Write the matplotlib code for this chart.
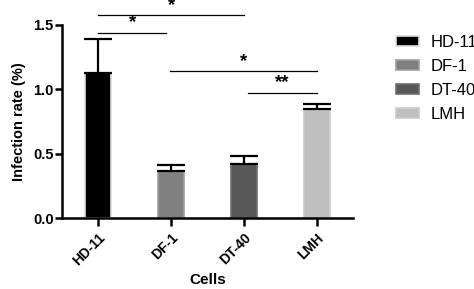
import matplotlib
matplotlib.use("Agg")
import matplotlib.pyplot as plt

cells = ["HD-11", "DF-1", "DT-40", "LMH"]
values = [1.13, 0.37, 0.42, 0.85]
errors = [0.26, 0.04, 0.06, 0.04]
colors = ["#000000", "#808080", "#585858", "#bfbfbf"]
edges = ["#dcdcdc", "#a0a0a0", "#707070", "#cccccc"]
yticks = [0.0, 0.5, 1.0, 1.5]
ytick_labels = ["0.0", "0.5", "1.0", "1.5"]
# significance brackets: (start index, end index, height, label)
sig_pairs = [(0, 2, 1.575, "*"), (0, 0.93, 1.44, "*"), (0.98, 3, 1.14, "*"), (2.06, 3, 0.975, "**")]

plt.rcParams['font.family'] = ['Liberation Sans', 'DejaVu Sans']

fig = plt.figure(figsize=(4.74, 2.89), dpi=100)
ax = fig.add_axes([0.1308, 0.2446, 0.6139, 0.6689])

x = list(range(len(cells)))
bars = ax.bar(x, values, width=0.36, color=colors, edgecolor=edges, linewidth=1.2,
              label=cells, zorder=2)
ax.errorbar(x, values, yerr=[[0]*len(errors), errors], fmt='none', ecolor='black',
            elinewidth=1.6, capsize=10, capthick=1.6, zorder=3)

ax.set_xlim(-0.5, 3.5)
ax.set_ylim(0, 1.5)
ax.set_yticks(yticks)
ax.set_yticklabels(ytick_labels, fontsize=10.5, fontweight='bold')
ax.set_xticks(x)
ax.set_xticklabels(cells, rotation=45, ha='right', rotation_mode='anchor',
                   fontsize=10, fontweight='bold')
for s in ['top', 'right']:
    ax.spines[s].set_visible(False)
for s in ['left', 'bottom']:
    ax.spines[s].set_linewidth(1.8)
ax.tick_params(axis='both', width=1.8, length=5, direction='out')
ax.tick_params(axis='x', length=6, pad=3)
ax.tick_params(axis='y', pad=1)

ax.set_ylabel("Infection rate (%)", fontsize=10.5, fontweight='bold', labelpad=5)
ax.set_xlabel("Cells", fontsize=11, fontweight='bold', labelpad=3)

for a, b, h, lab in sig_pairs:
    ax.plot([a, b], [h, h], color='black', linewidth=0.9, clip_on=False)
    ax.text((a + b) / 2, h + 0.01, lab, ha='center', va='bottom', fontsize=13.5,
            fontweight='bold', clip_on=False)

handles = [plt.Rectangle((0, 0), 1, 1, facecolor=c, edgecolor=e, linewidth=1.2)
           for c, e in zip(colors, edges)]
fig.legend(handles, cells, loc='upper left', bbox_to_anchor=(0.836, 0.88),
           frameon=False, fontsize=12, handlelength=1.35, handleheight=0.55,
           labelspacing=0.55, handletextpad=0.7, borderaxespad=0, borderpad=0)

fig.savefig("out.png", dpi=100)
